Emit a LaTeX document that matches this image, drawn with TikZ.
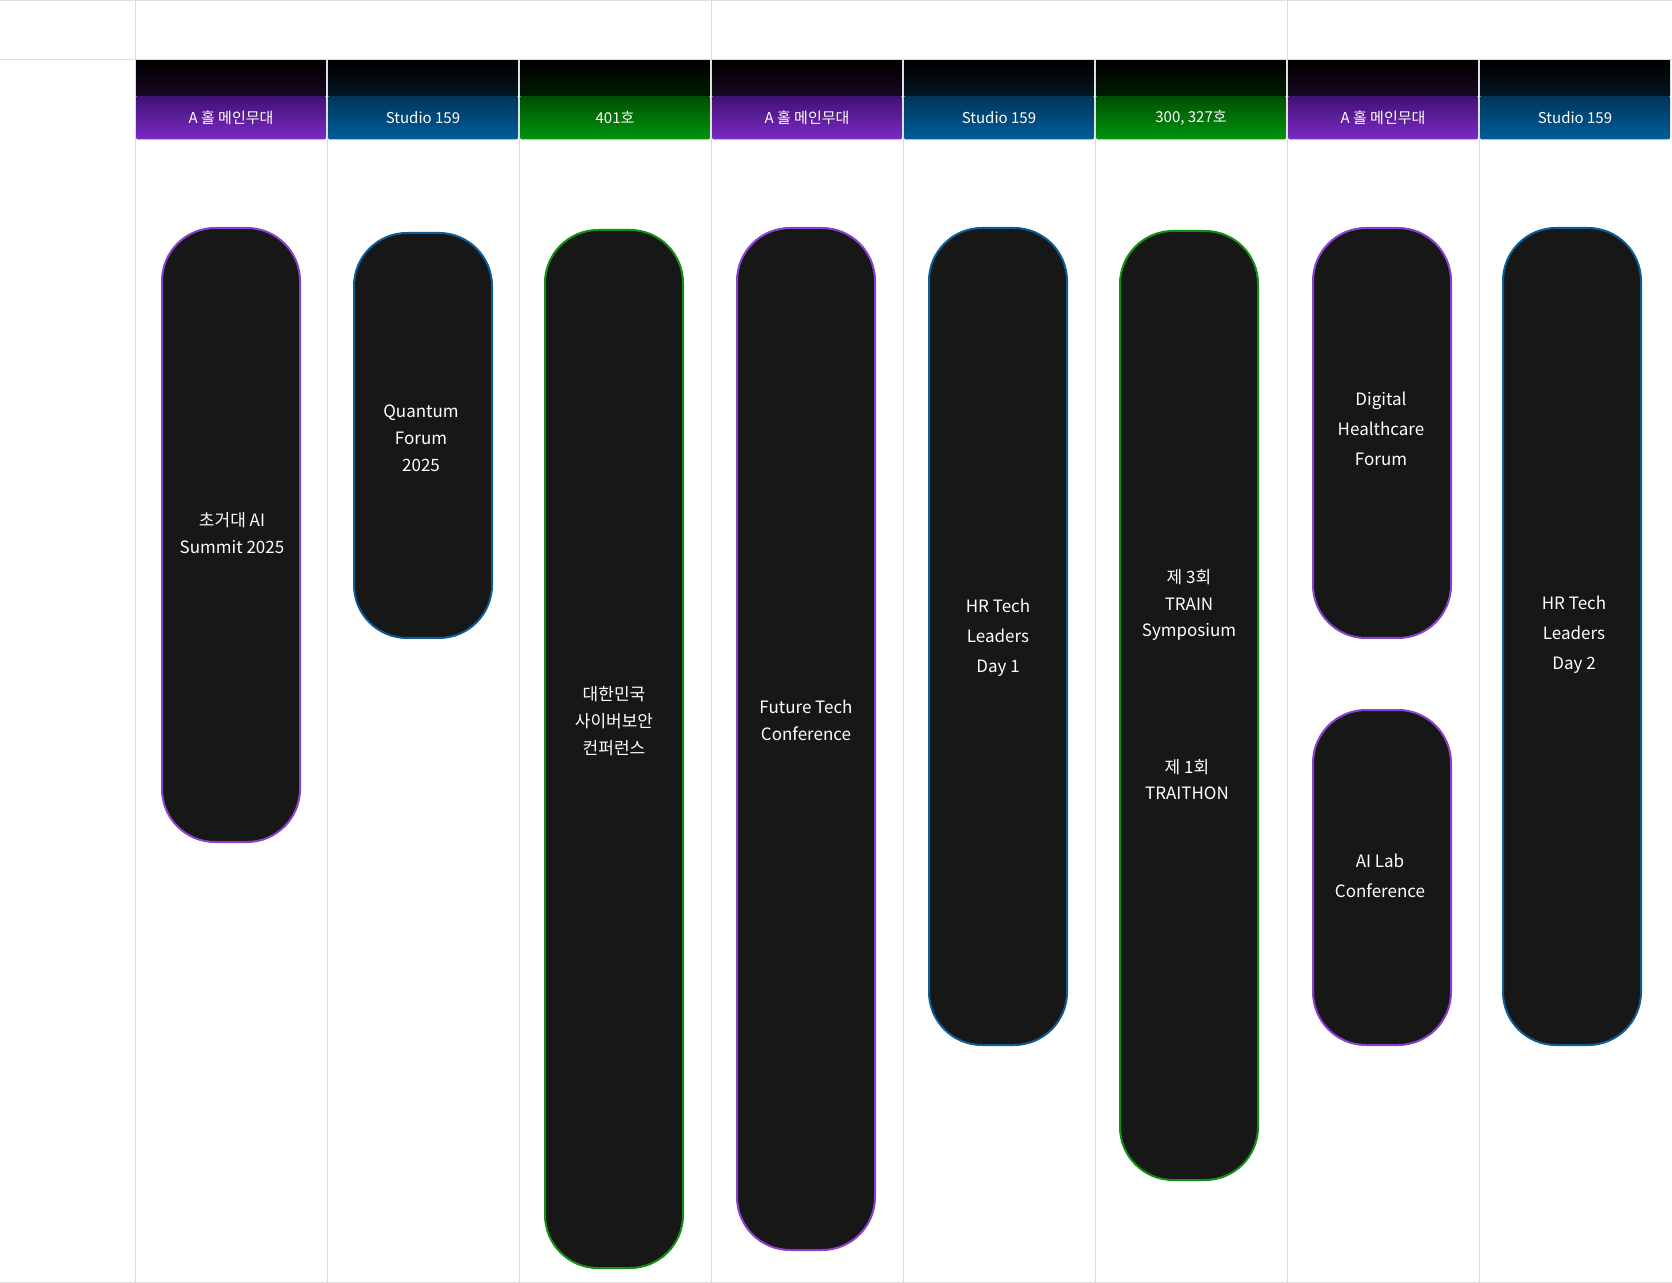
\documentclass[tikz,border=0pt]{standalone}
\usepackage{fontspec}
\setmainfont{Noto Sans CJK KR}
\definecolor{gridgray}{HTML}{DDDDDD}
\definecolor{pillfill}{HTML}{171717}
\definecolor{purpletop}{HTML}{3E1170}
\definecolor{purplebot}{HTML}{7C2BC6}
\definecolor{purpledark}{HTML}{180722}
\definecolor{purpleline}{HTML}{8C40D2}
\definecolor{bluetop}{HTML}{00355A}
\definecolor{bluebot}{HTML}{005D9B}
\definecolor{bluedark}{HTML}{021723}
\definecolor{blueline}{HTML}{0B5C97}
\definecolor{greentop}{HTML}{004E00}
\definecolor{greenbot}{HTML}{009410}
\definecolor{greendark}{HTML}{001E00}
\definecolor{greenline}{HTML}{129012}
\begin{document}
\begin{tikzpicture}[x=0.5pt,y=-0.5pt,
    gridline/.style={draw=gridgray,line width=0.5pt},
    hdr/.style={minimum width=95pt,minimum height=22pt,inner sep=0pt,
      rounded corners=1pt,top color=#1top,bottom color=#1bot,
      text=white,font=\fontsize{7.5}{9}\selectfont},
    hdrtop/.style={minimum width=95pt,minimum height=17.5pt,inner sep=0pt,
      top color=black,bottom color=#1dark},
    pill/.style={draw=#1line,line width=1pt,fill=pillfill,minimum width=69pt,
      rounded corners=26.5pt,inner sep=0pt},
    pilltext/.style={text=white,align=center,font=\fontsize{8.5}{13.4}\selectfont},
    pilltextw/.style={text=white,align=center,font=\fontsize{8.5}{15}\selectfont}]
  \useasboundingbox[fill=white] (0,0) rectangle (1672,1283);
  % grid
  \draw[gridline] (0,1)--(1672,1);
  \draw[gridline] (0,60)--(1672,60);
  \draw[gridline] (0,1282)--(1672,1282);
  \draw[gridline] (135,0)--(135,1283);
  \draw[gridline] (711,0)--(711,1283);
  \draw[gridline] (1287,0)--(1287,1283);
  \draw[gridline] (327,60)--(327,1283);
  \draw[gridline] (519,60)--(519,1283);
  \draw[gridline] (903,60)--(903,1283);
  \draw[gridline] (1095,60)--(1095,1283);
  \draw[gridline] (1479,60)--(1479,1283);
  % room headers
  \node[hdr=purple] (roomA) at (231,117.5) {A 홀 메인무대};
  \node[hdrtop=purple] (roomAtop) at (231,78.5) {};
  \node[hdr=blue] (roomB) at (423,117.5) {Studio 159};
  \node[hdrtop=blue] (roomBtop) at (423,78.5) {};
  \node[hdr=green] (roomC) at (615,117.5) {401호};
  \node[hdrtop=green] (roomCtop) at (615,78.5) {};
  \node[hdr=purple] (roomD) at (807,117.5) {A 홀 메인무대};
  \node[hdrtop=purple] (roomDtop) at (807,78.5) {};
  \node[hdr=blue] (roomE) at (999,117.5) {Studio 159};
  \node[hdrtop=blue] (roomEtop) at (999,78.5) {};
  \node[hdr=green] (roomF) at (1191,117.5) {300, 327호};
  \node[hdrtop=green] (roomFtop) at (1191,78.5) {};
  \node[hdr=purple] (roomG) at (1383,117.5) {A 홀 메인무대};
  \node[hdrtop=purple] (roomGtop) at (1383,78.5) {};
  \node[hdr=blue] (roomH) at (1575,117.5) {Studio 159};
  \node[hdrtop=blue] (roomHtop) at (1575,78.5) {};
  % sessions
  \node[pill=purple,minimum height=307pt] (summit) at (231,535) {};
  \node[pill=blue,minimum height=202.5pt] (quantum) at (423,435.5) {};
  \node[pill=green,minimum height=519pt] (cyber) at (614,749) {};
  \node[pill=purple,minimum height=511pt] (future) at (806,739) {};
  \node[pill=blue,minimum height=408.5pt] (hrone) at (998,636.5) {};
  \node[pill=green,minimum height=474.5pt] (train) at (1189,705.5) {};
  \node[pill=purple,minimum height=205pt] (digital) at (1382,433) {};
  \node[pill=purple,minimum height=167.5pt] (ailab) at (1382,877.5) {};
  \node[pill=blue,minimum height=408.5pt] (hrtwo) at (1572,636.5) {};
  % session titles
  \node[pilltext] (summitlbl) at (232,533) {초거대 AI\\Summit 2025};
  \node[pilltext] (quantumlbl) at (421,438) {Quantum\\Forum\\2025};
  \node[pilltext] (cyberlbl) at (614,721) {대한민국\\사이버보안\\컨퍼런스};
  \node[pilltext] (futurelbl) at (806,720) {Future Tech\\Conference};
  \node[pilltextw] (hronelbl) at (998,638) {HR Tech\\Leaders\\Day 1};
  \node[pilltext] (trainlbl) at (1189,605) {제 3회\\TRAIN\\Symposium};
  \node[pilltext] (traithonlbl) at (1187,779.5) {제 1회\\TRAITHON};
  \node[pilltextw] (digitallbl) at (1381,428.5) {Digital\\Healthcare\\Forum};
  \node[pilltextw] (ailablbl) at (1380,875.5) {AI Lab\\Conference};
  \node[pilltextw] (hrtwolbl) at (1574,635) {HR Tech\\Leaders\\Day 2};
\end{tikzpicture}
\end{document}
